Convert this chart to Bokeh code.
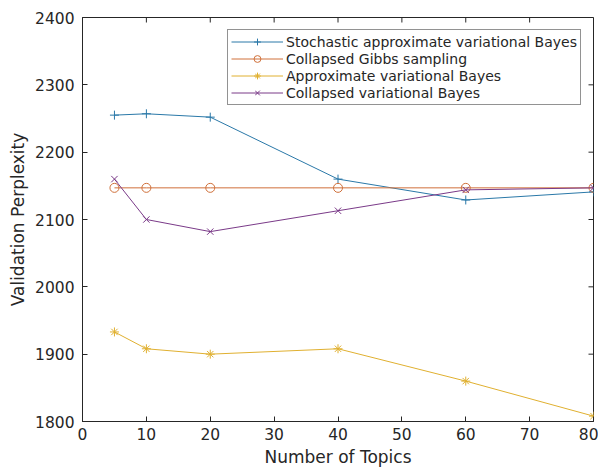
from bokeh.plotting import figure
from bokeh.models import Range1d, FixedTicker, Legend, LegendItem
from bokeh.embed import file_html
from bokeh.resources import INLINE

topics = [5, 10, 20, 40, 60, 80]
savb = [2255, 2257, 2252, 2160, 2129, 2141]
cgs = [2147, 2147, 2147, 2147, 2147, 2147]
avb = [1933, 1908, 1900, 1908, 1860, 1808]
cvb = [2160, 2100, 2082, 2113, 2144, 2147]

names = ["Stochastic approximate variational Bayes", "Collapsed Gibbs sampling",
         "Approximate variational Bayes", "Collapsed variational Bayes"]
colors = ["#2a78a8", "#d0703a", "#e0b030", "#7a3a88"]
markers = ["cross", "circle", "asterisk", "x"]

x_ticks = [0, 10, 20, 30, 40, 50, 60, 70, 80]
y_ticks = [1800, 1900, 2000, 2100, 2200, 2300, 2400]
X0, X1, Y0, Y1 = 0, 80, 1800, 2400

FONT = "DejaVu Sans"
TXT = "#262626"

p = figure(width=598, height=469, output_backend="svg", toolbar_location=None,
           x_range=Range1d(X0, X1), y_range=Range1d(Y0, Y1),
           min_border_left=82, min_border_right=5, min_border_top=17, min_border_bottom=48)
p.xgrid.visible = False
p.ygrid.visible = False
p.outline_line_color = TXT
p.outline_line_width = 1

for ax, ticks in ((p.xaxis[0], x_ticks), (p.yaxis[0], y_ticks)):
    ax.ticker = FixedTicker(ticks=ticks)
    ax.major_tick_in = 5
    ax.major_tick_out = 0
    ax.minor_tick_line_color = None
    ax.axis_line_color = TXT
    ax.major_tick_line_color = TXT
    ax.major_label_text_font = FONT
    ax.major_label_text_font_size = "15.5px"
    ax.major_label_text_color = TXT
    ax.axis_label_text_font = FONT
    ax.axis_label_text_font_size = "17px"
    ax.axis_label_text_font_style = "normal"
    ax.axis_label_text_color = TXT

p.xaxis[0].axis_label = "Number of Topics"
p.yaxis[0].axis_label = "Validation Perplexity"
p.xaxis[0].major_label_standoff = 6
p.yaxis[0].major_label_standoff = 8
p.xaxis[0].axis_label_standoff = 4
p.yaxis[0].axis_label_standoff = 4

# inward ticks on the top and right edges (box on)
ty = (Y1 - Y0) * 5 / 403
tx = (X1 - X0) * 5 / 511
p.segment(x0=x_ticks, x1=x_ticks, y0=[Y1] * len(x_ticks), y1=[Y1 - ty] * len(x_ticks),
          line_color=TXT, line_width=1)
p.segment(x0=[X1] * len(y_ticks), x1=[X1 - tx] * len(y_ticks), y0=y_ticks, y1=y_ticks,
          line_color=TXT, line_width=1)

items = []
for ys, name, c, m in zip([savb, cgs, avb, cvb], names, colors, markers):
    r1 = p.line(topics, ys, line_color=c, line_width=1)
    r2 = p.scatter(topics, ys, marker=m, size=9, line_color=c, fill_color=None, line_width=1)
    items.append(LegendItem(label=name, renderers=[r1, r2]))

legend = Legend(items=items, location="top_right")
legend.margin = 12
legend.padding = 3
legend.spacing = 0
legend.glyph_width = 52
legend.glyph_height = 17
legend.label_height = 17
legend.label_standoff = 3
legend.label_text_font = FONT
legend.label_text_font_size = "14px"
legend.label_text_color = TXT
legend.border_line_color = TXT
legend.border_line_width = 1
legend.background_fill_color = "white"
legend.background_fill_alpha = 1
p.add_layout(legend, "center")

open("out.html", "w").write(file_html(p, INLINE))
